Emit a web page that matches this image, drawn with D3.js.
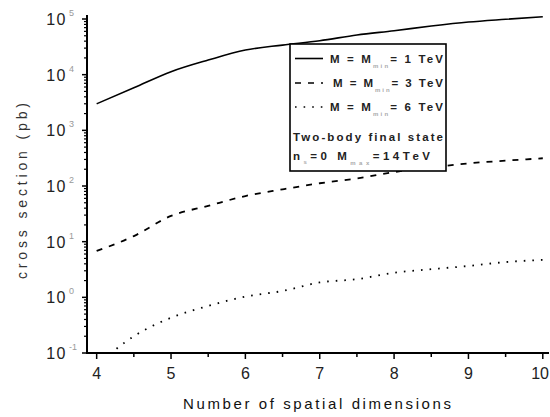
<!DOCTYPE html>
<html>
<head>
<meta charset="utf-8">
<script src="https://cdn.jsdelivr.net/npm/d3@7"></script>
<style>
  html, body { margin: 0; padding: 0; background: #fff; }
  svg { display: block; font-family: Arial, "Liberation Sans", sans-serif; }
</style>
</head>
<body>
<svg id="chart" width="550" height="417"></svg>
<script>
// Number of spatial dimensions (x values shared by all curves)
const dims = [4, 4.5, 5, 5.5, 6, 6.5, 7, 7.5, 8, 8.5, 9, 9.5, 10];

// Cross sections in pb for M = M_min = 1, 3 and 6 TeV
const sigma1TeV = [3000, 5800, 11300, 18300, 27700, 34000, 40700, 51600, 61700, 74800, 88300, 99000, 110000];
const sigma3TeV = [6.8, 12.6, 29, 44, 66, 87, 112, 137, 178, 215, 255, 285, 315];
const sigma6TeV = [0.06, 0.2, 0.43, 0.7, 1.03, 1.3, 1.85, 2.12, 2.77, 3.2, 3.66, 4.3, 4.7];

const xTicks = [4, 5, 6, 7, 8, 9, 10];
const yExponents = [-1, 0, 1, 2, 3, 4, 5];

const legendRows = [
  { mass: "1", style: "solid" },
  { mass: "3", style: "dashed" },
  { mass: "6", style: "dotted" }
];

const dashFor = { solid: null, dashed: "6,7", dotted: "1.6,7" };

const svg = d3.select("#chart");

const x = d3.scaleLinear().domain([3.87, 10.07]).range([87, 548]);
const y = d3.scaleLog().domain([0.1, Math.pow(10, 5.072)]).range([353, 15]);

// plot clip
svg.append("defs").append("clipPath").attr("id", "plotClip")
  .append("rect").attr("x", 87).attr("y", 10).attr("width", 463).attr("height", 343);

// x axis
const xAxis = svg.append("g").attr("transform", "translate(0,353)");
xAxis.append("line").attr("x1", 87).attr("x2", 549).attr("y1", 0).attr("y2", 0)
  .attr("stroke", "#000").attr("stroke-width", 2);
const xMinor = d3.range(4.5, 10, 1);
xAxis.selectAll(".xmaj").data(xTicks).join("line")
  .attr("x1", d => x(d)).attr("x2", d => x(d)).attr("y1", 0).attr("y2", 6)
  .attr("stroke", "#000").attr("stroke-width", 1.5);
xAxis.selectAll(".xmin").data(xMinor).join("line")
  .attr("x1", d => x(d)).attr("x2", d => x(d)).attr("y1", 0).attr("y2", 4)
  .attr("stroke", "#000").attr("stroke-width", 1.5);
xAxis.selectAll(".xlab").data(xTicks).join("text")
  .attr("x", (d, i) => i === xTicks.length - 1 ? 549 : x(d)).attr("y", 26)
  .attr("text-anchor", (d, i) => i === xTicks.length - 1 ? "end" : "middle")
  .attr("font-size", 16).attr("fill", "#222")
  .text(d => d);

// y axis
const yAxis = svg.append("g");
yAxis.append("line").attr("x1", 87).attr("x2", 87).attr("y1", 15).attr("y2", 354)
  .attr("stroke", "#000").attr("stroke-width", 2);
const yMinor = [];
yExponents.slice(0, -1).forEach(e => {
  for (let k = 2; k <= 9; k++) yMinor.push(k * Math.pow(10, e));
});
yAxis.selectAll(".ymaj").data(yExponents).join("line")
  .attr("x1", 82).attr("x2", 87)
  .attr("y1", e => y(Math.pow(10, e))).attr("y2", e => y(Math.pow(10, e)))
  .attr("stroke", "#000").attr("stroke-width", 1.5);
yAxis.selectAll(".ymin").data(yMinor).join("line")
  .attr("x1", 84).attr("x2", 87)
  .attr("y1", d => y(d)).attr("y2", d => y(d))
  .attr("stroke", "#000").attr("stroke-width", 1.2);
yAxis.selectAll(".ylab").data(yExponents).join("text")
  .attr("x", 67).attr("y", e => y(Math.pow(10, e)) + 6)
  .attr("text-anchor", "end").attr("font-size", 16).attr("fill", "#222")
  .attr("letter-spacing", 1.5)
  .text("10");
yAxis.selectAll(".yexp").data(yExponents).join("text")
  .attr("x", 69).attr("y", e => y(Math.pow(10, e)) - 3)
  .attr("font-size", 9).attr("fill", "#999")
  .text(e => e);

// axis titles
svg.append("text")
  .attr("x", 317).attr("y", 409)
  .attr("text-anchor", "middle").attr("font-size", 15).attr("fill", "#111")
  .attr("textLength", 268).attr("lengthAdjust", "spacing")
  .text("Number of spatial dimensions");
svg.append("text")
  .attr("transform", "translate(27,191) rotate(-90)")
  .attr("text-anchor", "middle").attr("font-size", 14).attr("fill", "#333")
  .attr("textLength", 176).attr("lengthAdjust", "spacing")
  .text("cross section (pb)");

// curves
const line = d3.line()
  .x(d => x(d[0]))
  .y(d => y(d[1]))
  .curve(d3.curveMonotoneX);

const seriesList = [
  { values: sigma1TeV, style: "solid" },
  { values: sigma3TeV, style: "dashed" },
  { values: sigma6TeV, style: "dotted" }
];

const plot = svg.append("g").attr("clip-path", "url(#plotClip)");
seriesList.forEach(s => {
  plot.append("path")
    .datum(dims.map((d, i) => [d, s.values[i]]))
    .attr("d", line)
    .attr("fill", "none")
    .attr("stroke", "#000")
    .attr("stroke-width", s.style === "solid" ? 1.6 : 1.8)
    .attr("stroke-dasharray", dashFor[s.style]);
});

// legend
const lg = svg.append("g");
lg.append("rect")
  .attr("x", 290).attr("y", 44).attr("width", 156).attr("height", 127)
  .attr("fill", "#fff").attr("stroke", "#000").attr("stroke-width", 1.6);

const rowY = [58.5, 83, 107];
const rowX = [330, 333, 330];
legendRows.forEach((r, i) => {
  lg.append("line")
    .attr("x1", 295).attr("x2", 323).attr("y1", rowY[i]).attr("y2", rowY[i])
    .attr("stroke", "#000").attr("stroke-width", 1.6)
    .attr("stroke-dasharray", dashFor[r.style]);
  const t = lg.append("text")
    .attr("x", rowX[i]).attr("y", rowY[i] + 4)
    .attr("font-size", 11.5).attr("font-weight", "bold").attr("fill", "#222")
    .attr("textLength", 443 - rowX[i]).attr("lengthAdjust", "spacing");
  t.append("tspan").text("M = M");
  t.append("tspan").attr("dy", 5).attr("font-size", 6).attr("fill", "#aaa").text("min");
  t.append("tspan").attr("dy", -5).text("= " + r.mass + " TeV");
});

lg.append("text")
  .attr("x", 293).attr("y", 141)
  .attr("font-size", 11.5).attr("font-weight", "bold").attr("fill", "#222")
  .attr("textLength", 150).attr("lengthAdjust", "spacing")
  .text("Two-body final state");

const t5 = lg.append("text")
  .attr("x", 293).attr("y", 160)
  .attr("font-size", 11.5).attr("font-weight", "bold").attr("fill", "#222")
  .attr("textLength", 137).attr("lengthAdjust", "spacing");
t5.append("tspan").text("n");
t5.append("tspan").attr("dy", 4).attr("font-size", 6).attr("fill", "#aaa").text("s");
t5.append("tspan").attr("dy", -4).text("=0  M");
t5.append("tspan").attr("dy", 5).attr("font-size", 6).attr("fill", "#aaa").text("max");
t5.append("tspan").attr("dy", -5).text("=14TeV");
</script>
</body>
</html>
